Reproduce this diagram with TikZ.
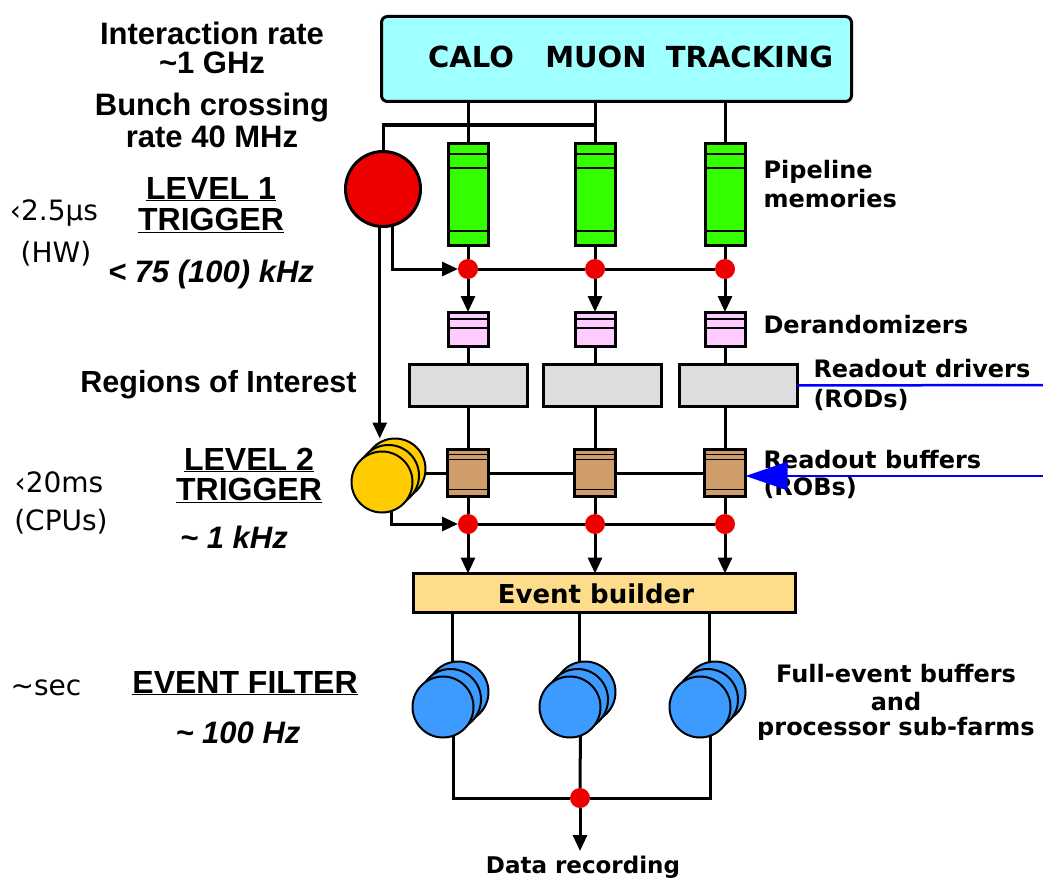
\documentclass[tikz,border=0pt]{standalone}
\usepackage{fontspec}
\setmainfont{Liberation Sans}
\newfontfamily\dvsans{DejaVu Sans}
\usetikzlibrary{arrows.meta,positioning,calc}

\definecolor{detcyan}{HTML}{A0FFFF}
\definecolor{pipegreen}{HTML}{33FF00}
\definecolor{derpink}{HTML}{FFCCFF}
\definecolor{rodgrey}{HTML}{DDDDDD}
\definecolor{robbrown}{HTML}{CF9C6B}
\definecolor{evbyellow}{HTML}{FDDC8B}
\definecolor{trigred}{HTML}{EE0000}
\definecolor{ltwoyellow}{HTML}{FFCC00}
\definecolor{efblue}{HTML}{3D9BFF}

\tikzset{
  box/.style={draw, line width=3pt, inner sep=0pt, outer sep=0pt},
  pipe/.style={box, fill=pipegreen, minimum width=40pt, minimum height=102pt},
  derand/.style={box, fill=derpink, minimum width=40pt, minimum height=34pt},
  rod/.style={box, fill=rodgrey, minimum width=118pt, minimum height=42pt},
  rob/.style={box, fill=robbrown, minimum width=41pt, minimum height=47pt},
  disk/.style={box, circle, line width=2pt, minimum size=61pt},
  dot/.style={circle, fill=trigred, inner sep=0pt, outer sep=0pt, minimum size=20pt},
  arr/.style={-{Triangle[length=16pt,width=14pt]}},
  lbl/.style={inner sep=0pt, anchor=base, font=\bfseries\fontsize{31}{36}\selectfont},
  lvl/.style={inner sep=0pt, anchor=base, font=\bfseries\fontsize{32}{36}\selectfont},
  rate/.style={inner sep=0pt, anchor=base, font=\bfseries\itshape\fontsize{31}{36}\selectfont},
  side/.style={inner sep=0pt, anchor=base west, font=\dvsans\bfseries\fontsize{24}{28}\selectfont},
  timing/.style={inner sep=0pt, anchor=base, font=\dvsans\fontsize{28}{32}\selectfont},
  blueline/.style={draw=blue, line width=2.5pt}
}

\begin{document}
\begin{tikzpicture}[x=1pt, y=-1pt, line width=3pt]
  \useasboundingbox (0,0) rectangle (1043,880);

  \node[box, fill=detcyan, rounded corners=6pt, minimum width=470pt, minimum height=85pt] (detbox) at (616.5,59) {};
  \foreach \n/\x/\t in {calo/471/CALO, muon/596/MUON, trk/749.5/TRACKING}
    \node[inner sep=0pt, anchor=base, font=\dvsans\bfseries\fontsize{29}{32}\selectfont] (\n) at (\x,68) {\t};

  \node[box, circle, fill=trigred, minimum size=75pt] (lvl1) at (383,189) {};
  \node[disk, fill=ltwoyellow] (lvl2c) at (395,469) {};
  \node[disk, fill=ltwoyellow] (lvl2b) at (388.5,475.5) {};
  \node[disk, fill=ltwoyellow] (lvl2a) at (382,482) {};

  \foreach \c/\x/\r in {1/468/468.5, 2/595/602, 3/725/738}{
    \node[pipe] (pipe\c) at (\x,194) {};
    \node[dot] (dotA\c) at (\x,269) {};
    \node[derand] (der\c) at (\x,329) {};
    \node[rod] (rod\c) at (\r,385.5) {};
    \node[rob] (rob\c) at (\x,473) {};
    \node[dot] (dotB\c) at (\x,524) {};
    \foreach \d in {11,25,88}
      \draw[line width=2pt] ($(pipe\c.north west)+(0,\d)$) -- ($(pipe\c.north east)+(0,\d)$);
    \foreach \d in {7,16}
      \draw[line width=2pt] ($(der\c.north west)+(0,\d)$) -- ($(der\c.north east)+(0,\d)$);
    \foreach \d in {5,10,40}
      \draw[line width=1.5pt] ($(rob\c.north west)+(0,\d)$) -- ($(rob\c.north east)+(0,\d)$);
    \draw (pipe\c.north) -- (pipe\c.north |- detbox.south);
    \draw (pipe\c.south) -- (dotA\c.north);
    \draw[arr] (dotA\c.south) -- (der\c.north);
    \draw (der\c.south) -- (der\c.south |- rod\c.north);
    \draw (rob\c.north |- rod\c.south) -- (rob\c.north);
    \draw (rob\c.south) -- (dotB\c.north);
  }

  \node[box, fill=evbyellow, minimum width=382pt, minimum height=39pt] (evb) at (604.5,593) {};
  \node[inner sep=0pt, anchor=base, font=\dvsans\bfseries\fontsize{26}{30}\selectfont] (evbtxt) at (596,603) {Event builder};
  \foreach \c in {1,2,3}
    \draw[arr] (dotB\c.south) -- (dotB\c.south |- evb.north);

  \coordinate (bcx) at (597,125);
  \draw (lvl1.north) |- (bcx);
  \draw[arr] (lvl1.285) |- (dotA1.west);
  \draw (dotA1.east) -- (dotA2.west) (dotA2.east) -- (dotA3.west);
  \draw[arr] (lvl1.265) -- (lvl1.265 |- lvl2c.north);
  \draw (lvl2c.east |- rob1.west) -- (rob1.west) (rob1.east) -- (rob2.west) (rob2.east) -- (rob3.west);
  \draw[arr] (lvl2a.288) |- (dotB1.west);
  \draw (dotB1.east) -- (dotB2.west) (dotB2.east) -- (dotB3.west);

  \foreach \c/\x in {1/454, 2/581, 3/711}{
    \node[disk, fill=efblue] (efc\c) at (\x+4,692) {};
    \node[disk, fill=efblue] (efb\c) at (\x-3.5,699.5) {};
    \node[disk, fill=efblue] (efa\c) at (\x-11,707) {};
    \draw (efc\c.100) -- (efc\c.100 |- evb.south);
  }
  \node[dot] (dotC) at (580,798) {};
  \draw (efa1.290) |- (dotC.west);
  \draw (efa3.290) |- (dotC.east);
  \draw (efa2.290) -- (dotC.north);
  \node[inner sep=0pt, anchor=base, font=\dvsans\bfseries\fontsize{23}{26}\selectfont] (rec) at (583,873) {Data recording};
  \draw[arr] (dotC.south) -- ([yshift=3pt]dotC.south |- rec.north);

  % left column
  \node[lbl] (irate) at (212,45) {Interaction rate};
  \node[lbl] (irateval) at (212,74) {\textasciitilde1 GHz};
  \node[lbl] (bcross) at (212,115) {Bunch crossing};
  \node[lbl] (bcrossval) at (212,147) {rate 40 MHz};
  \node[lvl] (l1name) at (211,199) {\underline{LEVEL 1}};
  \node[lvl] (l1name2) at (211,230) {\underline{TRIGGER}};
  \node[rate] (l1rate) at (211,282) {< 75 (100) kHz};
  \node[timing] (l1time) at (54,220) {‹2.5µs};
  \node[timing] (l1hw) at (56,262) {(HW)};
  \node[lbl, font=\bfseries\fontsize{30.5}{36}\selectfont] (roi) at (218.5,392) {Regions of Interest};
  \node[lvl] (l2name) at (249,470) {\underline{LEVEL 2}};
  \node[lvl] (l2name2) at (249,500) {\underline{TRIGGER}};
  \node[rate] (l2rate) at (234,548) {\textasciitilde{} 1 kHz};
  \node[timing] (l2time) at (59,492) {‹20ms};
  \node[timing] (l2cpu) at (61,530) {(CPUs)};
  \node[lvl] (efname) at (245,693) {\underline{EVENT FILTER}};
  \node[rate] (efrate) at (238,743) {\textasciitilde{} 100 Hz};
  \node[timing] (eftime) at (46,695) {\textasciitilde sec};

  % right column
  \node[side] (pipelbl) at (762,178) {Pipeline};
  \node[side] (pipelbl2) at (762,207) {memories};
  \node[side] (derlbl) at (762,333) {Derandomizers};
  \node[side] (rodlbl) at (812,377) {Readout drivers};
  \node[side] (rodlbl2) at (812,407) {(RODs)};
  \node[side] (roblbl) at (762,468) {Readout buffers};
  \node[side] (roblbl2) at (762,495) {(ROBs)};
  \node[side, anchor=base] (eflbl) at (896,682) {Full-event buffers};
  \node[side, anchor=base] (eflbl2) at (896,710) {and};
  \node[side, anchor=base] (eflbl3) at (896,735) {processor sub-farms};

  \coordinate (rodin) at (1043,385);
  \coordinate (robin) at (1043,476);
  \draw[blueline] (rod3.east) -- (rodin);
  \draw[blueline, -{Triangle[length=42pt,width=28pt]}] (robin) -- (rob3.east |- robin);
\end{tikzpicture}
\end{document}
